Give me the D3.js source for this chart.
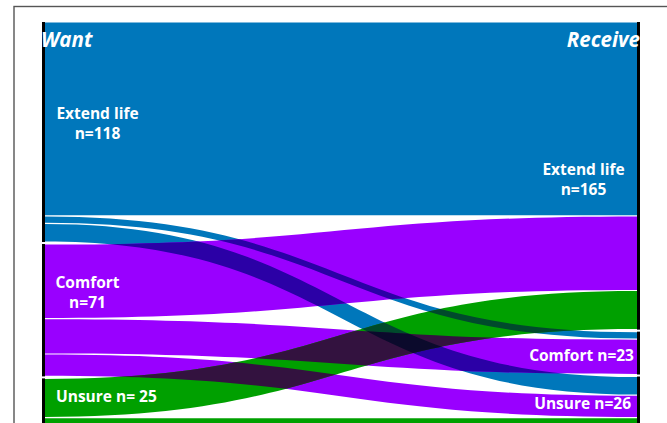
<!DOCTYPE html>
<html>
<head>
<meta charset="utf-8">
<script src="https://cdn.jsdelivr.net/npm/d3@7"></script>
<style>
	html, body { margin: 0; padding: 0; background: #fff; overflow: hidden; }
	svg { display: block; }
	.label { font-family: 'Open Sans', sans-serif; font-weight: 700; fill: #fff; font-size: 15.5px; }
	.head { font-family: 'Open Sans', sans-serif; font-weight: 700; font-style: italic; fill: #fff; font-size: 20.5px; }
</style>
</head>
<body>
<svg id="chart" width="667" height="423"></svg>
<script>
// data
const nodeNames = ['Extend life', 'Comfort', 'Unsure'];
const wantCounts = [118, 71, 25];
const receiveCounts = [165, 23, 26];
// flows[want][receive]
const flows = [
	[104, 4, 10],
	[40, 19, 12],
	[21, 0, 4],
];
const wantLabels = [['Extend life', 'n=118'], ['Comfort', 'n=71'], ['Unsure n= 25']];
const receiveLabels = [['Extend life', 'n=165'], ['Comfort n=23'], ['Unsure n=26']];

const colors = ['#0077bb', '#9900ff', '#00a000'];
const mixColors = {
	'0|1': '#2b00a6', // blue over purple
	'1|2': '#33123f', // purple over green
	'0|2': '#004a2c', // blue over green
	'0|1|2': '#0b0a2c',
};

const svg = d3.select('#chart');
const TOP = 22;
const GAP = 2;
const BAR = 3;
const INSET = 0.6;

const total = d3.sum(wantCounts);
const h = d3.scaleLinear().domain([0, total]).range([0, 399]);
const x = d3.scaleLinear().domain([0, 1]).range([45, 637]);

function stack(counts) {
	let y = TOP;
	return counts.map((c) => {
		const n = { y0: y, y1: y + h(c) };
		y = n.y1 + GAP;
		return n;
	});
}
const left = stack(wantCounts);
const right = stack(receiveCounts);

// links
const lOff = left.map((n) => n.y0);
const rOff = right.map((n) => n.y0);
const links = [];
flows.forEach((row, s) => {
	row.forEach((v, t) => {
		if (!v) return;
		const l = { s, t, s0: lOff[s], t0: rOff[t] };
		lOff[s] += h(v);
		rOff[t] += h(v);
		l.s1 = lOff[s];
		l.t1 = rOff[t];
		links.push(l);
	});
});

function ribbon(l) {
	const p = d3.path();
	const xa = x(0), xb = x(1), xm = (xa + xb) / 2;
	const a0 = l.s0 + INSET, a1 = l.s1 - INSET, b0 = l.t0 + INSET, b1 = l.t1 - INSET;
	p.moveTo(xa, a0);
	p.bezierCurveTo(xm, a0, xm, b0, xb, b0);
	p.lineTo(xb, b1);
	p.bezierCurveTo(xm, b1, xm, a1, xa, a1);
	p.closePath();
	return p.toString();
}

// frame
svg.append('rect')
	.attr('x', 14).attr('y', 6.5)
	.attr('width', 700).attr('height', 500)
	.attr('fill', 'none')
	.attr('stroke', '#555')
	.attr('stroke-width', 1.4);

const defs = svg.append('defs');
links.forEach((l, i) => {
	defs.append('clipPath').attr('id', 'clip' + i)
		.append('path').attr('d', ribbon(l));
});

// base ribbons
svg.append('g').selectAll('path')
	.data(links)
	.join('path')
	.attr('d', ribbon)
	.attr('fill', (d) => colors[d.s]);

// overlaps of two bands
const ov = svg.append('g');
links.forEach((a, i) => {
	links.forEach((b, j) => {
		if (j <= i || a.s === b.s) return;
		const key = [a.s, b.s].sort().join('|');
		ov.append('path')
			.attr('d', ribbon(b))
			.attr('clip-path', 'url(#clip' + i + ')')
			.attr('fill', mixColors[key]);
	});
});
// overlaps of three bands
links.forEach((a, i) => {
	links.forEach((b, j) => {
		links.forEach((c, k) => {
			if (j <= i || k <= j) return;
			if (new Set([a.s, b.s, c.s]).size < 3) return;
			ov.append('g')
				.attr('clip-path', 'url(#clip' + i + ')')
				.append('path')
				.attr('d', ribbon(c))
				.attr('clip-path', 'url(#clip' + j + ')')
				.attr('fill', mixColors['0|1|2']);
		});
	});
});

// node bars
[[left, x(0) - BAR], [right, x(1)]].forEach(([nodes, bx]) => {
	svg.append('g').selectAll('rect')
		.data(nodes)
		.join('rect')
		.attr('x', bx)
		.attr('y', (d) => d.y0)
		.attr('width', BAR)
		.attr('height', (d) => d.y1 - d.y0)
		.attr('fill', '#000');
});

// column headers
svg.append('text').attr('class', 'head')
	.attr('x', 41).attr('y', 47)
	.text('Want');
svg.append('text').attr('class', 'head')
	.attr('x', 640).attr('y', 47)
	.attr('text-anchor', 'end')
	.text('Receive');

// node labels
const leftPos = [
	{ x: 97.5, y: 119, anchor: 'middle' },
	{ x: 87.5, y: 288, anchor: 'middle' },
	{ x: 56, y: 402, anchor: 'start' },
];
const rightPos = [
	{ x: 583.5, y: 175, anchor: 'middle' },
	{ x: 634, y: 361, anchor: 'end' },
	{ x: 631, y: 409, anchor: 'end' },
];
function addLabels(lines, pos) {
	lines.forEach((ls, i) => {
		const t = svg.append('text').attr('class', 'label')
			.attr('text-anchor', pos[i].anchor);
		ls.forEach((s, k) => {
			t.append('tspan')
				.attr('x', pos[i].x)
				.attr('y', pos[i].y + k * 20)
				.text(s);
		});
	});
}
addLabels(wantLabels, leftPos);
addLabels(receiveLabels, rightPos);
</script>
</body>
</html>
